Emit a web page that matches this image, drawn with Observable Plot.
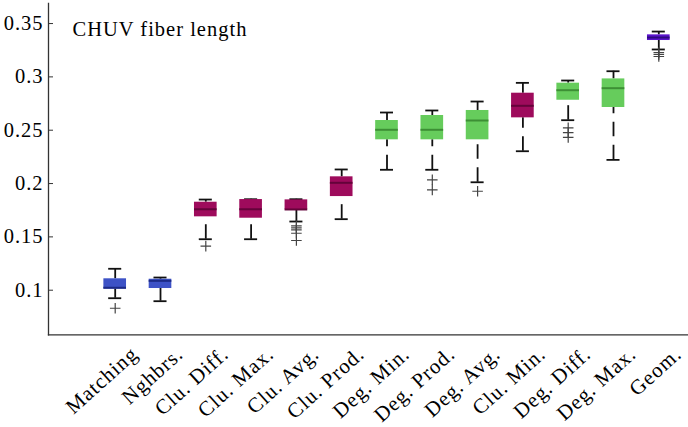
<!DOCTYPE html>
<html><head><meta charset="utf-8">
<script src="https://cdn.jsdelivr.net/npm/d3@7"></script>
<script src="https://cdn.jsdelivr.net/npm/@observablehq/plot@0.6"></script>
<style>
body{margin:0;background:#fff}
</style>
</head><body><div id="chart"></div>
<script>
const title = "CHUV fiber length";
const categories = ["Matching","Nghbrs.","Clu. Diff.","Clu. Max.","Clu. Avg.","Clu. Prod.","Deg. Min.","Deg. Prod.","Deg. Avg.","Clu. Min.","Deg. Diff.","Deg. Max.","Geom."];
const groups = ["blue","blue","mag","mag","mag","mag","green","green","green","mag","green","green","purple"];
const whiskerLow  = [0.0925,0.0897,0.1478,0.1478,0.1644,0.1666,0.2129,0.2129,0.2012,0.2303,0.2594,0.2222,0.3257];
const q1          = [0.1011,0.1016,0.1688,0.1675,0.1754,0.1878,0.2410,0.2410,0.2410,0.2616,0.2781,0.2713,0.3341];
const median      = [0.1023,0.1088,0.1759,0.1759,0.1757,0.2007,0.2504,0.2504,0.2591,0.2729,0.2875,0.2894,0.3369];
const q3          = [0.1107,0.1103,0.1825,0.1850,0.1847,0.2063,0.2591,0.2638,0.2685,0.2847,0.2941,0.2981,0.3394];
const whiskerHigh = [0.1201,0.1119,0.1850,0.1853,0.1853,0.2132,0.2666,0.2685,0.2769,0.2944,0.2966,0.3053,0.3425];
const outliers = [[0.0831],[],[0.1413],[],[0.1604,0.1585,0.1566,0.1534,0.1466],[],[],[0.2035,0.1941],[0.1928],[],[0.2522,0.2478,0.2432],[],[0.3228,0.3210,0.3191]];
const yTicks = [0.1,0.15,0.2,0.25,0.3,0.35];

const fillColor = {blue:"#3d52c6", mag:"#9e0b5c", green:"#66cc5c", purple:"#5b14cc"};
const medColor = {blue:"#1c2a85", mag:"#64033a", green:"#3d8f35", purple:"#2e0a80"};

const rows = categories.map((c,i)=>({cat:c, grp:groups[i], lo:whiskerLow[i], q1:q1[i], med:median[i], q3:q3[i], hi:whiskerHigh[i]}));
const outlierRows = categories.flatMap((c,i)=>outliers[i].map(v=>({cat:c, v})));

const fs = 20.5;
const serif = "Liberation Serif";

const chart = Plot.plot({
  width: 688, height: 427,
  marginLeft: 48, marginRight: 0, marginTop: 3, marginBottom: 92.7,
  style: {fontSize: fs + "px", fontFamily: serif, color: "#000", background: "#fff", letterSpacing: "1px"},
  x: {type: "band", domain: categories, range: [92.05, 680.95], paddingInner: 0.5, paddingOuter: 0.25, round: false, axis: null},
  y: {domain: [0.0582, 0.3688], axis: null},
  color: {type: "identity"},
  marks: [
    Plot.ruleX(rows, {x: "cat", y1: "lo", y2: "q1", stroke: "#111", strokeWidth: 1.8, strokeDasharray: "14.5,8.5"}),
    Plot.ruleX(rows, {x: "cat", y1: "hi", y2: "q3", stroke: "#111", strokeWidth: 1.8, strokeDasharray: "14.5,8.5"}),
    Plot.tickY(rows, {x: "cat", y: "lo", stroke: "#111", strokeWidth: 1.8, inset: 4.8}),
    Plot.tickY(rows, {x: "cat", y: "hi", stroke: "#111", strokeWidth: 1.8, inset: 4.8}),
    Plot.barY(rows, {x: "cat", y1: "q1", y2: "q3", fill: d => fillColor[d.grp]}),
    Plot.tickY(rows, {x: "cat", y: "med", stroke: d => medColor[d.grp], strokeWidth: 2}),
    Plot.dot(outlierRows, {x: "cat", y: "v", symbol: "plus", r: 3.5, stroke: "#444", strokeWidth: 1.2}),
    Plot.frame({anchor: "left", stroke: "#333", strokeWidth: 1.3}),
    Plot.frame({anchor: "bottom", stroke: "#333", strokeWidth: 1.3}),
    Plot.axisY(yTicks, {tickSize: 5, tickPadding: 5, dx: 5, tickFormat: d3.format("~g"), fontSize: fs, fontFamily: serif, stroke: "#333", fill: "#000"}),
    Plot.text(categories, {x: d => d, frameAnchor: "bottom", textAnchor: "end", lineAnchor: "bottom", rotate: -42, dx: 24, dy: 21, fontSize: 21, fontFamily: serif, fill: "#000", ariaLabel: "xlabels"}),
    Plot.text([title], {frameAnchor: "top-left", dx: 24, dy: 18, fontSize: fs, fontFamily: serif, fill: "#000"})
  ]
});
const xl = chart.querySelector('g[aria-label="xlabels"]');
if (xl) xl.style.letterSpacing = "1.5px";
document.getElementById("chart").appendChild(chart);
</script>
</body></html>
